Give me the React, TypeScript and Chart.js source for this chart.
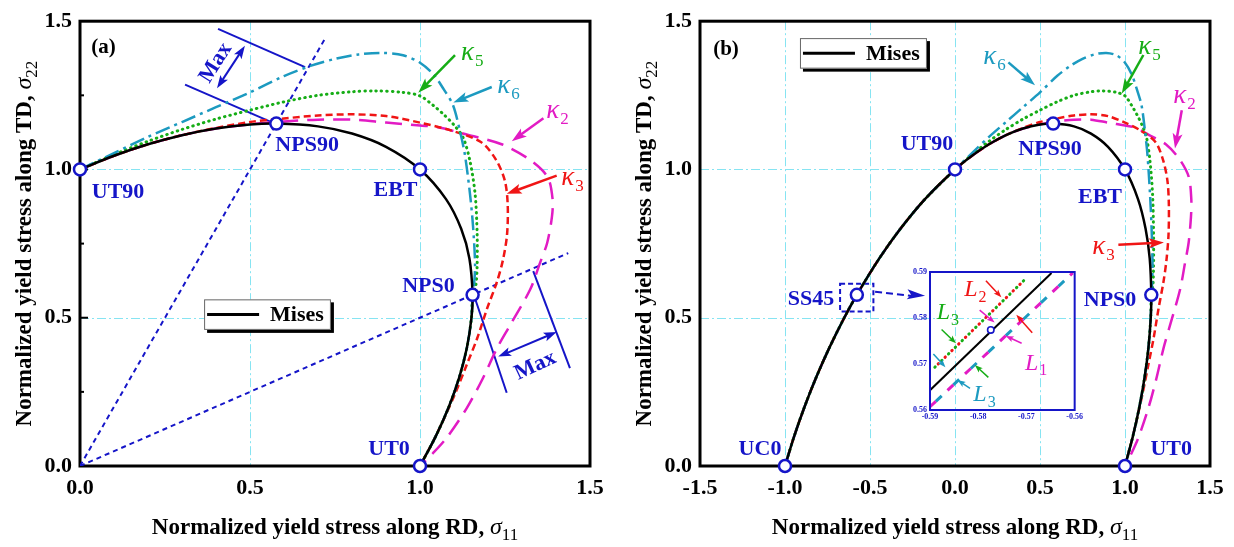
import React, { useEffect, useRef } from "react";
import { Chart, registerables } from "chart.js";

Chart.register(...registerables);

const SERIF = '"Liberation Serif", "Times New Roman", Times, serif';

const BLACK = "#000000";
const BLUE = "#1515c8";
const GRID = "#86e4f2";
const K2 = "#e21bc4";
const K3 = "#f01515";
const K5 = "#16ad16";
const K6 = "#1c9ac0";

// axis ticks
const X_TICKS_A = [0, 0.5, 1.0, 1.5];
const X_TICKS_B = [-1.5, -1.0, -0.5, 0, 0.5, 1.0, 1.5];
const Y_TICKS = [0, 0.5, 1.0, 1.5];
const X_TICKS_INSET = [-0.59, -0.58, -0.57, -0.56];
const Y_TICKS_INSET = [0.56, 0.57, 0.58, 0.59];

// Mises locus: UT90 -> NPS90 -> EBT -> NPS0 -> UT0
const MISES_X = [0, 0.1, 0.2, 0.3, 0.4, 0.5, 0.5774, 0.7, 0.8, 0.9, 1.0, 1.0765, 1.1211, 1.1453, 1.1547, 1.1514, 1.1381, 1.1157, 1.0849, 1.0462, 1.0];
const MISES_Y = [1.0, 1.0462, 1.0849, 1.1157, 1.1381, 1.1514, 1.1547, 1.1453, 1.1211, 1.0765, 1.0, 0.9, 0.8, 0.7, 0.5774, 0.5, 0.4, 0.3, 0.2, 0.1, 0];

// Mises locus: UC0 -> SS45 -> UT90 (all models coincide here)
const LEFT_X = [-1.0, -0.9462, -0.8849, -0.8157, -0.7381, -0.6514, -0.5774, -0.4453, -0.3211, -0.1765];
const LEFT_Y = [0, 0.1, 0.2, 0.3, 0.4, 0.5, 0.5774, 0.7, 0.8, 0.9];

// kappa_2
const K2_X = [0, 0.1, 0.2, 0.3, 0.4, 0.5, 0.6, 0.7, 0.8, 0.9, 1.0, 1.05, 1.14, 1.24, 1.32, 1.375, 1.39, 1.388, 1.374, 1.353, 1.324, 1.265, 1.226, 1.185, 1.138, 1.079, 1.038, 1.0];
const K2_Y = [1.0, 1.0462, 1.0849, 1.1157, 1.1381, 1.152, 1.162, 1.168, 1.168, 1.158, 1.148, 1.143, 1.117, 1.085, 1.035, 0.975, 0.9, 0.84, 0.752, 0.685, 0.595, 0.475, 0.396, 0.296, 0.196, 0.096, 0.043, 0];

// kappa_3
const K3_X = [0, 0.1, 0.2, 0.3, 0.4, 0.5, 0.6, 0.7, 0.8, 0.9, 1.0, 1.09, 1.18, 1.225, 1.25, 1.258, 1.256, 1.244, 1.226, 1.197, 1.168, 1.138, 1.103, 1.068, 1.035, 1.0];
const K3_Y = [1.0, 1.0462, 1.0849, 1.1157, 1.14, 1.16, 1.172, 1.182, 1.186, 1.18, 1.158, 1.132, 1.092, 1.03, 0.96, 0.88, 0.78, 0.695, 0.62, 0.53, 0.43, 0.343, 0.243, 0.153, 0.075, 0];

// kappa_5
const K5_X = [0, 0.1, 0.2, 0.3, 0.4, 0.5, 0.6, 0.7, 0.8, 0.87, 0.95, 1.0, 1.04, 1.07, 1.1, 1.127, 1.147, 1.162, 1.168, 1.168, 1.164, 1.1547, 1.1514, 1.1381, 1.1157, 1.0849, 1.0462, 1.0];
const K5_Y = [1.0, 1.05, 1.095, 1.135, 1.17, 1.2, 1.228, 1.25, 1.262, 1.265, 1.26, 1.248, 1.215, 1.185, 1.15, 1.107, 1.028, 0.918, 0.785, 0.675, 0.608, 0.5774, 0.5, 0.4, 0.3, 0.2, 0.1, 0];

// kappa_6
const K6_X = [0, 0.1, 0.2, 0.3, 0.4, 0.5, 0.6, 0.68, 0.75, 0.82, 0.89, 0.95, 1.0, 1.04, 1.07, 1.097, 1.118, 1.132, 1.147, 1.156, 1.162, 1.158, 1.1547, 1.1514, 1.1381, 1.1157, 1.0849, 1.0462, 1.0];
const K6_Y = [1.0, 1.055, 1.11, 1.16, 1.21, 1.26, 1.315, 1.35, 1.373, 1.388, 1.393, 1.385, 1.36, 1.32, 1.27, 1.217, 1.127, 1.05, 0.918, 0.808, 0.675, 0.6, 0.5774, 0.5, 0.4, 0.3, 0.2, 0.1, 0];

// characteristic stress states
const STATES_A_X = [0, 0.5774, 1.0, 1.1547, 1.0];
const STATES_A_Y = [1.0, 1.1547, 1.0, 0.5774, 0];
const STATES_B_X = [-1.0, -0.5774, 0, 0.5774, 1.0, 1.1547, 1.0];
const STATES_B_Y = [0, 0.5774, 1.0, 1.1547, 1.0, 0.5774, 0];

// proportional loading paths through NPS90 and NPS0
const PATH_90_X = [0, 0.72];
const PATH_90_Y = [0, 1.44];
const PATH_0_X = [0, 1.436];
const PATH_0_Y = [0, 0.718];

// detail around SS45
const INSET_MISES_X = [-0.59, -0.5648];
const INSET_MISES_Y = [0.5643, 0.5898];
const INSET_OUTER_X = [-0.589, -0.57];
const INSET_OUTER_Y = [0.5693, 0.5887];
const INSET_INNER_X = [-0.59, -0.5604];
const INSET_INNER_Y = [0.5607, 0.5898];
const INSET_POINT_X = [-0.5774];
const INSET_POINT_Y = [0.5774];

type Pt = [number, number];

const zip = (xs: number[], ys: number[]) => xs.map((x, i) => ({ x, y: ys[i] }));

function curve(xs: number[], ys: number[], color: string, dash: number[], width: number, order: number, extra: any = {}) {
  return {
    data: zip(xs, ys),
    showLine: true,
    borderColor: color,
    backgroundColor: color,
    borderWidth: width,
    borderDash: dash,
    pointRadius: 0,
    pointHoverRadius: 0,
    tension: 0.3,
    fill: false,
    order,
    ...extra,
  };
}

function markers(xs: number[], ys: number[], r: number, bw: number) {
  return {
    data: zip(xs, ys),
    showLine: false,
    pointRadius: r,
    pointHoverRadius: r,
    pointBorderWidth: bw,
    pointBorderColor: BLUE,
    pointBackgroundColor: "#ffffff",
    order: -10,
    clip: false,
  };
}

function seg(ctx: CanvasRenderingContext2D, x1: number, y1: number, x2: number, y2: number) {
  ctx.beginPath();
  ctx.moveTo(x1, y1);
  ctx.lineTo(x2, y2);
  ctx.stroke();
}

function head(ctx: CanvasRenderingContext2D, fx: number, fy: number, tx: number, ty: number, len: number, half: number) {
  const a = Math.atan2(ty - fy, tx - fx);
  const c = Math.cos(a), s = Math.sin(a);
  const bx = tx - len * c, by = ty - len * s;
  ctx.beginPath();
  ctx.moveTo(tx, ty);
  ctx.lineTo(bx - half * s, by + half * c);
  ctx.lineTo(tx - len * 0.78 * c, ty - len * 0.78 * s);
  ctx.lineTo(bx + half * s, by - half * c);
  ctx.closePath();
  ctx.fill();
}

function arrow(ctx: CanvasRenderingContext2D, fx: number, fy: number, tx: number, ty: number, color: string, width: number, len: number, half: number, both = false) {
  ctx.save();
  ctx.strokeStyle = color;
  ctx.fillStyle = color;
  ctx.lineWidth = width;
  ctx.setLineDash([]);
  const a = Math.atan2(ty - fy, tx - fx);
  const c = Math.cos(a), s = Math.sin(a);
  const sx = both ? fx + len * 0.7 * c : fx;
  const sy = both ? fy + len * 0.7 * s : fy;
  seg(ctx, sx, sy, tx - len * 0.7 * c, ty - len * 0.7 * s);
  head(ctx, fx, fy, tx, ty, len, half);
  if (both) head(ctx, tx, ty, fx, fy, len, half);
  ctx.restore();
}

function subText(ctx: CanvasRenderingContext2D, main: string, sub: string, cx: number, cy: number, color: string, size: number, subSize: number, mid: number) {
  ctx.save();
  ctx.fillStyle = color;
  ctx.textAlign = "left";
  ctx.textBaseline = "alphabetic";
  ctx.font = `italic ${size}px ${SERIF}`;
  const w1 = ctx.measureText(main).width;
  ctx.font = `${subSize}px ${SERIF}`;
  const w2 = ctx.measureText(sub).width;
  const x0 = cx - (w1 + w2) / 2;
  const base = cy + mid * size;
  ctx.font = `italic ${size}px ${SERIF}`;
  ctx.fillText(main, x0, base);
  ctx.font = `${subSize}px ${SERIF}`;
  ctx.fillText(sub, x0 + w1 + 1, base + subSize * 0.35);
  ctx.restore();
}

function axisTitle(ctx: CanvasRenderingContext2D, text: string, sub: string, cx: number, cy: number, angle: number) {
  ctx.save();
  ctx.translate(cx, cy);
  ctx.rotate(angle);
  ctx.fillStyle = BLACK;
  ctx.textAlign = "left";
  ctx.textBaseline = "alphabetic";
  const f1 = `bold 23px ${SERIF}`;
  const f2 = `italic 24px ${SERIF}`;
  const f3 = `17px ${SERIF}`;
  ctx.font = f1;
  const w1 = ctx.measureText(text).width;
  ctx.font = f2;
  const w2 = ctx.measureText("σ").width;
  ctx.font = f3;
  const w3 = ctx.measureText(sub).width;
  const x0 = -(w1 + w2 + w3) / 2;
  const base = 7;
  ctx.font = f1;
  ctx.fillText(text, x0, base);
  ctx.font = f2;
  ctx.fillText("σ", x0 + w1, base);
  ctx.font = f3;
  ctx.fillText(sub, x0 + w1 + w2, base + 6);
  ctx.restore();
}

function boldText(ctx: CanvasRenderingContext2D, text: string, x: number, y: number, color: string, size: number, angle = 0) {
  ctx.save();
  ctx.translate(x, y);
  ctx.rotate(angle);
  ctx.fillStyle = color;
  ctx.font = `bold ${size}px ${SERIF}`;
  ctx.textAlign = "center";
  ctx.textBaseline = "middle";
  ctx.fillText(text, 0, 1);
  ctx.restore();
}

interface KappaNote { sub: string; color: string; at: Pt; from: Pt; to: Pt; }
interface StateLabel { text: string; at: Pt; }
interface PanelDecor {
  gridX: number[];
  gridY: number[];
  leftTicks: { v: number; len: number }[];
  tag: string;
  tagAt: Pt;
  legend: [number, number, number, number];
  states: StateLabel[];
  kappas: KappaNote[];
  under?: (ctx: CanvasRenderingContext2D, px: (v: number) => number, py: (v: number) => number) => void;
}

function decorPlugin(d: PanelDecor) {
  return {
    id: "panelDecor",
    beforeDatasetsDraw(chart: any) {
      const { ctx, chartArea: a, scales } = chart;
      const px = (v: number) => scales.x.getPixelForValue(v);
      const py = (v: number) => scales.y.getPixelForValue(v);
      ctx.save();
      ctx.strokeStyle = GRID;
      ctx.lineWidth = 1;
      ctx.setLineDash([9, 3, 2, 3]);
      for (const gx of d.gridX) {
        const x = Math.round(px(gx)) + 0.5;
        seg(ctx, x, a.top, x, a.bottom);
      }
      for (const gy of d.gridY) {
        const y = Math.round(py(gy)) + 0.5;
        seg(ctx, a.left, y, a.right, y);
      }
      ctx.setLineDash([]);
      ctx.strokeStyle = BLACK;
      ctx.lineWidth = 3;
      ctx.strokeRect(a.left, a.top, a.right - a.left, a.bottom - a.top);
      ctx.lineWidth = 2;
      for (const t of d.leftTicks) {
        seg(ctx, a.left, py(t.v), a.left + t.len, py(t.v));
      }
      if (d.under) d.under(ctx, px, py);
      ctx.restore();
    },
    afterDatasetsDraw(chart: any) {
      const { ctx, chartArea: a, scales } = chart;
      const px = (v: number) => scales.x.getPixelForValue(v);
      const py = (v: number) => scales.y.getPixelForValue(v);
      ctx.save();
      boldText(ctx, d.tag, px(d.tagAt[0]), py(d.tagAt[1]), BLACK, 21);
      for (const s of d.states) boldText(ctx, s.text, px(s.at[0]), py(s.at[1]), BLUE, 22);
      for (const k of d.kappas) {
        subText(ctx, "κ", k.sub, px(k.at[0]), py(k.at[1]), k.color, 27, 17, 0.22);
        arrow(ctx, px(k.from[0]), py(k.from[1]), px(k.to[0]), py(k.to[1]), k.color, 2.5, 15, 5);
      }
      // legend
      const [x0, y0, x1, y1] = d.legend;
      const L = px(x0), T = py(y0), R = px(x1), B = py(y1);
      ctx.fillStyle = BLACK;
      ctx.fillRect(L + 3, T + 3, R - L, B - T);
      ctx.fillStyle = "#ffffff";
      ctx.fillRect(L, T, R - L, B - T);
      ctx.strokeStyle = "#666666";
      ctx.lineWidth = 1;
      ctx.strokeRect(L + 0.5, T + 0.5, R - L - 1, B - T - 1);
      ctx.strokeStyle = BLACK;
      ctx.lineWidth = 3;
      seg(ctx, L + 3, (T + B) / 2, L + 55, (T + B) / 2);
      ctx.fillStyle = BLACK;
      ctx.font = `bold 22px ${SERIF}`;
      ctx.textAlign = "left";
      ctx.textBaseline = "middle";
      ctx.fillText("Mises", L + 66, (T + B) / 2 + 1);
      // axis titles
      axisTitle(ctx, "Normalized yield stress along RD, ", "11", (a.left + a.right) / 2, a.bottom + 61, 0);
      axisTitle(ctx, "Normalized yield stress along TD, ", "22", a.left - 56, (a.top + a.bottom) / 2, -Math.PI / 2);
      ctx.restore();
    },
  };
}

function buildPanel(canvas: HTMLCanvasElement, datasets: any[], xMin: number, xTicks: number[], yAxisWidth: number, padRight: number, decor: PanelDecor) {
  const tickFont = { family: SERIF, size: 22, weight: "bold" as const };
  return new Chart(canvas, {
    type: "scatter",
    data: { datasets },
    options: {
      animation: false,
      responsive: false,
      devicePixelRatio: 1,
      events: [],
      layout: { padding: { left: 0, right: padRight, top: 15, bottom: 0 } },
      plugins: { legend: { display: false }, tooltip: { enabled: false } },
      scales: {
        x: {
          type: "linear",
          min: xMin,
          max: 1.5,
          grid: { display: false, drawTicks: false },
          border: { display: false },
          afterBuildTicks: (s: any) => { s.ticks = xTicks.map((value) => ({ value })); },
          afterFit: (s: any) => { s.height = 81; },
          ticks: { color: BLACK, font: tickFont, padding: 9, maxRotation: 0, autoSkip: false, callback: (v: any) => Number(v).toFixed(1) },
        },
        y: {
          type: "linear",
          min: 0,
          max: 1.5,
          grid: { display: false, drawTicks: false },
          border: { display: false },
          afterBuildTicks: (s: any) => { s.ticks = Y_TICKS.map((value) => ({ value })); },
          afterFit: (s: any) => { s.width = yAxisWidth; },
          ticks: { color: BLACK, font: tickFont, padding: 8, autoSkip: false, callback: (v: any) => Number(v).toFixed(1) },
        },
      },
    } as any,
    plugins: [decorPlugin(decor)],
  });
}

const DASH_K2 = [17, 9];
const DASH_K3 = [7, 4];
const DASH_K5 = [0.5, 5];
const DASH_K6 = [15, 5, 3, 5];

function panelA(canvas: HTMLCanvasElement) {
  const datasets = [
    markers(STATES_A_X, STATES_A_Y, 6, 2.5),
    curve(MISES_X, MISES_Y, BLACK, [], 2.5, -5),
    curve(K6_X, K6_Y, K6, DASH_K6, 2.5, 1),
    curve(K5_X, K5_Y, K5, DASH_K5, 3, 2, { borderCapStyle: "round" }),
    curve(K3_X, K3_Y, K3, DASH_K3, 2.5, 3),
    curve(K2_X, K2_Y, K2, DASH_K2, 2.5, 4),
    curve(PATH_90_X, PATH_90_Y, BLUE, [5, 4], 2, 8, { tension: 0 }),
    curve(PATH_0_X, PATH_0_Y, BLUE, [5, 4], 2, 8, { tension: 0 }),
  ];
  const decor: PanelDecor = {
    gridX: [0.5, 1.0],
    gridY: [0.5, 1.0],
    leftTicks: [
      { v: 0.25, len: 4 }, { v: 0.5, len: 8 }, { v: 0.75, len: 4 }, { v: 1.0, len: 8 }, { v: 1.25, len: 4 },
    ],
    tag: "(a)",
    tagAt: [0.069, 1.413],
    legend: [0.365, 0.562, 0.738, 0.459],
    states: [
      { text: "UT90", at: [0.112, 0.928] },
      { text: "NPS90", at: [0.668, 1.084] },
      { text: "EBT", at: [0.928, 0.934] },
      { text: "NPS0", at: [1.025, 0.61] },
      { text: "UT0", at: [0.909, 0.06] },
    ],
    kappas: [
      { sub: "5", color: K5, at: [1.152, 1.389], from: [1.103, 1.386], to: [0.995, 1.259] },
      { sub: "6", color: K6, at: [1.259, 1.277], from: [1.211, 1.278], to: [1.098, 1.226] },
      { sub: "2", color: K2, at: [1.403, 1.194], from: [1.363, 1.173], to: [1.27, 1.095] },
      { sub: "3", color: K3, at: [1.447, 0.968], from: [1.402, 0.979], to: [1.255, 0.918] },
    ],
    under: (ctx, px, py) => {
      ctx.strokeStyle = BLUE;
      ctx.lineWidth = 2;
      ctx.setLineDash([]);
      // distance marker between Mises and kappa_6 along the NPS90 path
      seg(ctx, px(0.309), py(1.286), px(0.568), py(1.157));
      seg(ctx, px(0.406), py(1.474), px(0.662), py(1.345));
      arrow(ctx, px(0.485), py(1.417), px(0.403), py(1.274), BLUE, 2, 13, 4.5, true);
      boldText(ctx, "Max", px(0.397), py(1.361), BLUE, 22, (-58 * Math.PI) / 180);
      // distance marker along the NPS0 path
      ctx.strokeStyle = BLUE;
      ctx.lineWidth = 2;
      seg(ctx, px(1.156), py(0.585), px(1.255), py(0.247));
      seg(ctx, px(1.333), py(0.657), px(1.441), py(0.33));
      arrow(ctx, px(1.23), py(0.369), px(1.402), py(0.452), BLUE, 2, 13, 4.5, true);
      boldText(ctx, "Max", px(1.338), py(0.341), BLUE, 22, (-25 * Math.PI) / 180);
    },
  };
  return buildPanel(canvas, datasets, 0, X_TICKS_A, 80, 27, decor);
}

function panelB(canvas: HTMLCanvasElement) {
  const full = (xs: number[], ys: number[]) => [[...LEFT_X, ...xs], [...LEFT_Y, ...ys]] as [number[], number[]];
  const [mx, my] = full(MISES_X, MISES_Y);
  const [k2x, k2y] = full(K2_X, K2_Y);
  const [k3x, k3y] = full(K3_X, K3_Y);
  const [k5x, k5y] = full(K5_X, K5_Y);
  const [k6x, k6y] = full(K6_X, K6_Y);
  const datasets = [
    markers(STATES_B_X, STATES_B_Y, 6, 2.5),
    curve(mx, my, BLACK, [], 2.5, -5),
    curve(k6x, k6y, K6, DASH_K6, 2.5, 1),
    curve(k5x, k5y, K5, DASH_K5, 3, 2, { borderCapStyle: "round" }),
    curve(k3x, k3y, K3, DASH_K3, 2.5, 3),
    curve(k2x, k2y, K2, DASH_K2, 2.5, 4),
  ];
  const decor: PanelDecor = {
    gridX: [-1.0, -0.5, 0, 0.5, 1.0],
    gridY: [0.5, 1.0],
    leftTicks: [],
    tag: "(b)",
    tagAt: [-1.347, 1.407],
    legend: [-0.912, 1.443, -0.165, 1.34],
    states: [
      { text: "UC0", at: [-1.147, 0.06] },
      { text: "SS45", at: [-0.847, 0.567] },
      { text: "UT90", at: [-0.165, 1.089] },
      { text: "NPS90", at: [0.559, 1.073] },
      { text: "EBT", at: [0.853, 0.911] },
      { text: "NPS0", at: [0.912, 0.562] },
      { text: "UT0", at: [1.272, 0.06] },
    ],
    kappas: [
      { sub: "6", color: K6, at: [0.229, 1.377], from: [0.314, 1.361], to: [0.471, 1.284] },
      { sub: "5", color: K5, at: [1.141, 1.41], from: [1.108, 1.386], to: [0.981, 1.256] },
      { sub: "2", color: K2, at: [1.347, 1.244], from: [1.334, 1.2], to: [1.294, 1.071] },
      { sub: "3", color: K3, at: [0.871, 0.735], from: [0.961, 0.746], to: [1.229, 0.754] },
    ],
    under: (ctx, px, py) => {
      ctx.strokeStyle = BLUE;
      ctx.fillStyle = BLUE;
      ctx.lineWidth = 2;
      ctx.setLineDash([5, 3]);
      const L = px(-0.676), R = px(-0.48), T = py(0.615), B = py(0.521);
      ctx.strokeRect(L, T, R - L, B - T);
      const fx = px(-0.47), fy = py(0.588), tx = px(-0.176), ty = py(0.574);
      ctx.setLineDash([7, 4]);
      seg(ctx, fx, fy, tx - 14, ty);
      ctx.setLineDash([]);
      head(ctx, fx, fy, tx, ty, 18, 5);
    },
  };
  return buildPanel(canvas, datasets, -1.5, X_TICKS_B, 83, 24, decor);
}

// arrows and labels of the SS45 detail
const INSET_ARROWS: { color: string; from: Pt; to: Pt }[] = [
  { color: K3, from: [-0.5784, 0.5881], to: [-0.5752, 0.5845] },
  { color: K2, from: [-0.5797, 0.5817], to: [-0.5766, 0.579] },
  { color: K3, from: [-0.5688, 0.5768], to: [-0.5721, 0.5807] },
  { color: K2, from: [-0.571, 0.5745], to: [-0.5743, 0.5761] },
  { color: K5, from: [-0.5876, 0.5775], to: [-0.5846, 0.5745] },
  { color: K6, from: [-0.5893, 0.5722], to: [-0.5868, 0.5693] },
  { color: K5, from: [-0.5779, 0.5671], to: [-0.5807, 0.5698] },
  { color: K6, from: [-0.5817, 0.5647], to: [-0.5843, 0.5665] },
];
const INSET_LABELS: { sub: string; color: string; at: Pt }[] = [
  { sub: "2", color: K3, at: [-0.5807, 0.5865] },
  { sub: "3", color: K5, at: [-0.5864, 0.5814] },
  { sub: "1", color: K2, at: [-0.5681, 0.5705] },
  { sub: "3", color: K6, at: [-0.5788, 0.5636] },
];

function inset(canvas: HTMLCanvasElement) {
  const tickFont = { family: SERIF, size: 8, weight: "bold" as const };
  const datasets = [
    markers(INSET_POINT_X, INSET_POINT_Y, 3.2, 1.6),
    curve(INSET_MISES_X, INSET_MISES_Y, BLACK, [], 2, -5, { tension: 0 }),
    curve(INSET_OUTER_X, INSET_OUTER_Y, K5, [0.5, 9], 3, 2, { tension: 0, borderCapStyle: "round" }),
    curve(INSET_OUTER_X, INSET_OUTER_Y, K3, [0.5, 9], 3, 3, { tension: 0, borderCapStyle: "round", borderDashOffset: -4.7 }),
    curve(INSET_INNER_X, INSET_INNER_Y, K2, [8, 16], 3, 4, { tension: 0 }),
    curve(INSET_INNER_X, INSET_INNER_Y, K6, [8, 16], 3, 4, { tension: 0, borderDashOffset: -8 }),
  ];
  const plugin = {
    id: "insetDecor",
    afterDatasetsDraw(chart: any) {
      const { ctx, chartArea: a, scales } = chart;
      const px = (v: number) => scales.x.getPixelForValue(v);
      const py = (v: number) => scales.y.getPixelForValue(v);
      ctx.save();
      ctx.strokeStyle = BLUE;
      ctx.lineWidth = 2;
      ctx.strokeRect(a.left, a.top, a.right - a.left, a.bottom - a.top);
      for (const ar of INSET_ARROWS) {
        arrow(ctx, px(ar.from[0]), py(ar.from[1]), px(ar.to[0]), py(ar.to[1]), ar.color, 1.5, 8, 3);
      }
      for (const lb of INSET_LABELS) {
        subText(ctx, "L", lb.sub, px(lb.at[0]), py(lb.at[1]), lb.color, 24, 16, 0.33);
      }
      ctx.restore();
    },
  };
  return new Chart(canvas, {
    type: "scatter",
    data: { datasets },
    options: {
      animation: false,
      responsive: false,
      devicePixelRatio: 1,
      events: [],
      layout: { padding: { left: 0, right: 10, top: 10, bottom: 0 } },
      plugins: { legend: { display: false }, tooltip: { enabled: false } },
      scales: {
        x: {
          type: "linear",
          min: -0.59,
          max: -0.56,
          grid: { display: false, drawTicks: false },
          border: { display: false },
          afterBuildTicks: (s: any) => { s.ticks = X_TICKS_INSET.map((value) => ({ value })); },
          afterFit: (s: any) => { s.height = 17; },
          ticks: { color: BLUE, font: tickFont, padding: 2, maxRotation: 0, autoSkip: false, callback: (v: any) => Number(v).toFixed(2) },
        },
        y: {
          type: "linear",
          min: 0.56,
          max: 0.59,
          grid: { display: false, drawTicks: false },
          border: { display: false },
          afterBuildTicks: (s: any) => { s.ticks = Y_TICKS_INSET.map((value) => ({ value })); },
          afterFit: (s: any) => { s.width = 50; },
          ticks: { color: BLUE, font: tickFont, padding: 3, autoSkip: false, callback: (v: any) => Number(v).toFixed(2) },
        },
      },
    } as any,
    plugins: [plugin],
  });
}

export default function App() {
  const aRef = useRef<HTMLCanvasElement>(null);
  const bRef = useRef<HTMLCanvasElement>(null);
  const iRef = useRef<HTMLCanvasElement>(null);

  useEffect(() => {
    const charts = [panelA(aRef.current!), panelB(bRef.current!), inset(iRef.current!)];
    return () => charts.forEach((c) => c.destroy());
  }, []);

  return (
    <div style={{ position: "fixed", left: 0, top: 0, width: 1234, height: 547, background: "#ffffff", overflow: "hidden" }}>
      <canvas ref={aRef} width={617} height={547} style={{ position: "absolute", left: 0, top: 0, width: 617, height: 547 }} />
      <canvas ref={bRef} width={617} height={547} style={{ position: "absolute", left: 617, top: 0, width: 617, height: 547 }} />
      <canvas ref={iRef} width={205} height={165} style={{ position: "absolute", left: 880, top: 262, width: 205, height: 165 }} />
    </div>
  );
}
